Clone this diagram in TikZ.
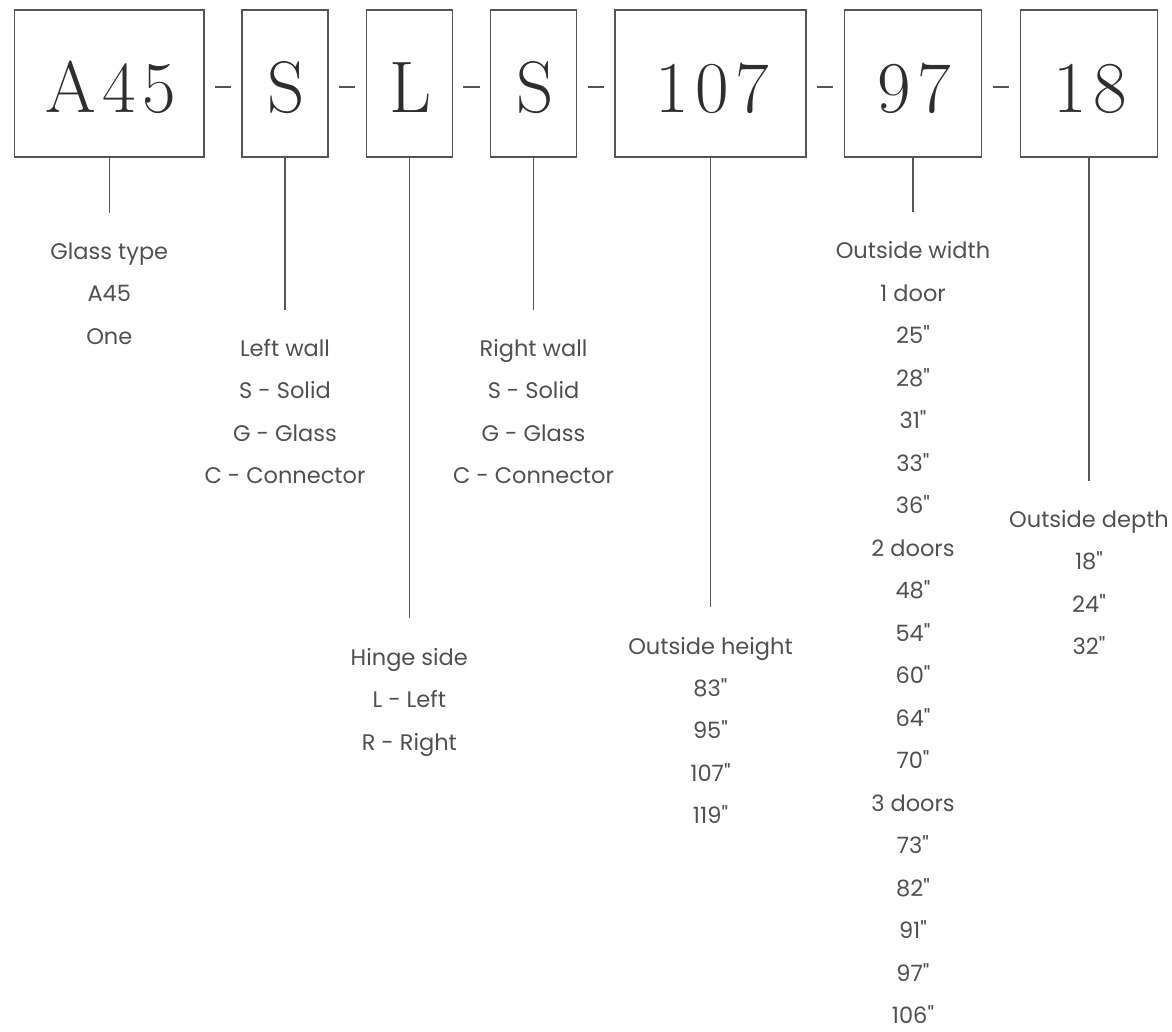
\documentclass[tikz,border=0pt]{standalone}
\usepackage{fontspec}
\setmainfont{Poppins}
\newfontfamily\codefont{lmroman17-regular.otf}[LetterSpace=9]
\usetikzlibrary{calc}

\definecolor{edge}{HTML}{555555}
\definecolor{ink}{HTML}{2E2E2E}
\definecolor{notegray}{HTML}{505050}
\newcommand\inch{\textquotedbl}

\tikzset{
  part/.style={draw=edge, line width=1.2pt, minimum height=147pt, inner sep=0pt,
    text height=57pt, text depth=0pt, text=ink, font=\codefont\fontsize{73}{73}\selectfont},
  minus/.style={draw=none, inner sep=0pt, minimum width=16pt, minimum height=0pt},
  lead/.style={draw=edge, line width=1.1pt},
  note/.style={anchor=base, inner sep=0pt, text=notegray, font=\fontsize{22.5}{22.5}\selectfont},
}

\begin{document}
\begin{tikzpicture}[x=1pt, y=-1pt]
\useasboundingbox (0,0) rectangle (1172,1031);

% code boxes
\node[part, minimum width=189.5pt] (A45) at (109.3, 83.5) {\kern3pt A45};
\node[part, minimum width=86pt] (wallL) at (285, 83.5) {\kern3pt S};
\node[part, minimum width=86pt] (hinge) at (409.3, 83.5) {\kern3pt L};
\node[part, minimum width=86pt] (wallR) at (533.5, 83.5) {\kern3pt S};
\node[part, minimum width=191pt] (height) at (710.5, 83.5) {\kern3pt 107};
\node[part, minimum width=137.5pt] (width) at (913, 83.5) {\kern3pt 97};
\node[part, minimum width=137.5pt] (depth) at (1089, 83.5) {\kern3pt 18};

% separators
\foreach \a/\b [count=\i] in {A45/wallL, wallL/hinge, hinge/wallR, wallR/height, height/width, width/depth} {
  \node[minus] (dash\i) at ($(\a.east)!.5!(\b.west)+(0,3.5)$) {};
  \draw[lead] (dash\i.west) -- (dash\i.east);
}

% leader ends
\coordinate (glass-tip) at (109.3, 213);
\coordinate (wallL-tip) at (285, 310);
\coordinate (hinge-tip) at (409.3, 618);
\coordinate (wallR-tip) at (533.5, 310);
\coordinate (height-tip) at (710.5, 607);
\coordinate (width-tip) at (913, 212);
\coordinate (depth-tip) at (1089, 481);

\draw[lead] (A45.south) -- (glass-tip);
\draw[lead] (wallL.south) -- (wallL-tip);
\draw[lead] (hinge.south) -- (hinge-tip);
\draw[lead] (wallR.south) -- (wallR-tip);
\draw[lead] (height.south) -- (height-tip);
\draw[lead] (width.south) -- (width-tip);
\draw[lead] (depth.south) -- (depth-tip);

% option lists
\foreach \t [count=\i] in {Glass type, A45, One}
  \node[note] (glass\i) at (109.3, {259+(\i-1)*42.6}) {\t};
\foreach \t [count=\i] in {Left wall, S - Solid, G - Glass, C - Connector}
  \node[note] (wallL\i) at (285, {356+(\i-1)*42.6}) {\t};
\foreach \t [count=\i] in {Hinge side, L - Left, R - Right}
  \node[note] (hinge\i) at (409.3, {665+(\i-1)*42.6}) {\t};
\foreach \t [count=\i] in {Right wall, S - Solid, G - Glass, C - Connector}
  \node[note] (wallR\i) at (533.5, {356+(\i-1)*42.6}) {\t};
\foreach \t [count=\i] in {Outside height, 83\inch, 95\inch, 107\inch, 119\inch}
  \node[note] (height\i) at (710.5, {654+(\i-1)*42.4}) {\t};
\foreach \t [count=\i] in {Outside width, 1 door, 25\inch, 28\inch, 31\inch, 33\inch, 36\inch, 2 doors, 48\inch, 54\inch, 60\inch, 64\inch, 70\inch, 3 doors, 73\inch, 82\inch, 91\inch, 97\inch, 106\inch}
  \node[note] (width\i) at (913, {258.5+(\i-1)*42.5}) {\t};
\foreach \t [count=\i] in {Outside depth, 18\inch, 24\inch, 32\inch}
  \node[note] (depth\i) at (1089, {527+(\i-1)*42.5}) {\t};
\end{tikzpicture}
\end{document}
